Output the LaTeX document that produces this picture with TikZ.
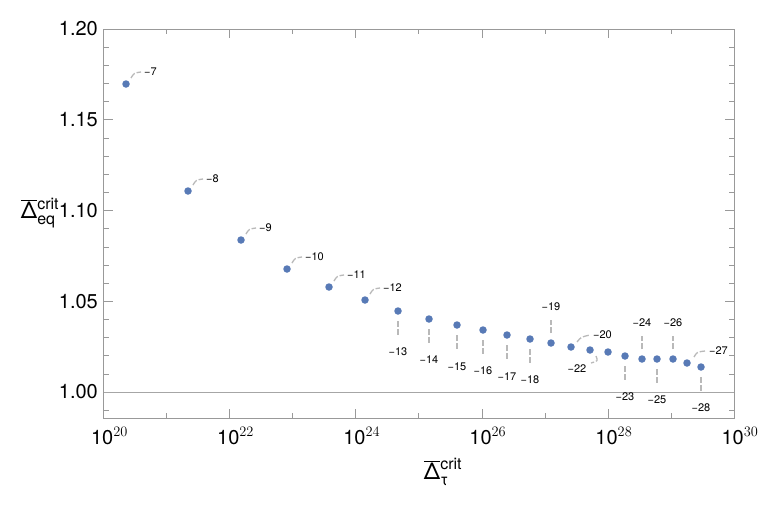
\documentclass[tikz,border=0pt]{standalone}
\usepackage{fontspec}
\setmainfont{TeX Gyre Heros}
\definecolor{ptc}{RGB}{88,122,182}
\newcommand{\smtxt}[1]{\hbox{\fontsize{16}{16}\selectfont #1}}
\newcommand{\dbar}{\overline{\hbox{Δ}}}
\begin{document}
\begin{tikzpicture}[x=1pt,y=-1pt,
  frame/.style={draw=gray!80,line width=0.6pt},
  tick/.style={draw=gray!80,line width=0.6pt},
  pt/.style={circle,fill=ptc,inner sep=0pt,minimum size=7.5pt},
  lead/.style={draw=gray!55,line width=1.3pt,dash pattern=on 6pt off 2pt},
  lab/.style={font=\fontsize{11}{11}\selectfont,inner sep=0pt},
  tl/.style={font=\fontsize{20}{20}\selectfont,inner sep=0pt}]
\useasboundingbox (0,0) rectangle (758,506);
\fill[white] (0,0) rectangle (758,506);
% frame
\draw[frame] (103.5,29) rectangle (734,418);
% x ticks
\foreach \i in {0,...,10}{
  \pgfmathsetmacro\xx{103.5+63.05*\i}
  \pgfmathtruncatemacro\ev{mod(\i,2)}
  \ifnum\ev=0
    \draw[tick] (\xx,418) -- ++(0,-9); \draw[tick] (\xx,29) -- ++(0,9);
  \else
    \draw[tick] (\xx,418) -- ++(0,-5); \draw[tick] (\xx,29) -- ++(0,5);
  \fi}
\foreach \i/\e in {0/20,2/22,4/24,6/26,8/28,10/30}{
  \node[tl,anchor=north] (xl\e) at (103.5+63.05*\i+6,427) {10$^{\e}$};}
% y ticks
\foreach \j in {-1,...,20}{
  \pgfmathsetmacro\yy{392-18.15*\j}
  \pgfmathtruncatemacro\ev{mod(\j+5,5)}
  \ifnum\ev=0
    \draw[tick] (103.5,\yy) -- ++(9,0); \draw[tick] (734,\yy) -- ++(-9,0);
  \else
    \draw[tick] (103.5,\yy) -- ++(5,0); \draw[tick] (734,\yy) -- ++(-5,0);
  \fi}
\foreach \j/\t in {0/1.00,5/1.05,10/1.10,15/1.15,20/1.20}{
  \node[tl,anchor=east] (yl\j) at (98,392-18.15*\j) {\t};}
% reference line
\draw[gray!70,line width=0.6pt] (103.5,392) -- (734,392);
% axis labels
\node[font=\fontsize{23}{23}\selectfont] (ylab) at (40,213) {$\dbar{}^{\smtxt{crit}}_{\smtxt{eq}}$};
\node[font=\fontsize{23}{23}\selectfont] (xlab) at (443,472) {$\dbar{}^{\smtxt{crit}}_{\smtxt{τ}}$};
% points
\foreach \n/\x/\y in {7/126/84,8/188/191,9/241/240,10/287/269,11/329/287,12/365/300,
 13/398/311,14/429/319,15/457/325,16/483/330,17/507/335,18/530/339,19/551/343,
 20/571/347,22/590/350,21/608/352,23/625/356,24/642/359,25/657/359,26/673/359,27/687/363,28/701/367}{
  \node[pt] (p\n) at (\x,\y) {};}
% upper-right curved leaders
\foreach \n/\x/\y in {7/126/84,8/188/191,9/241/240,10/287/269,11/329/287,12/365/300}{
  \draw[lead] (\x+5,\y-6) .. controls (\x+8,\y-11) .. (\x+15,\y-12);
  \node[lab,anchor=west] (l\n) at (\x+18,\y-12) {−\n};}
% below vertical leaders
\foreach \n/\x/\y/\ly in {13/398/311/352,14/429/319/360,15/457/325/367,16/483/330/371,17/507/335/377,18/530/339/380,23/625/356/397,25/657/359/400,28/701/367/408}{
  \draw[lead] (\x,\y+10) -- (\x,\ly-17);
  \node[lab] (l\n) at (\x,\ly) {−\n};}
% above vertical leaders
\foreach \n/\x/\y in {19/551/343,24/642/359,26/673/359}{
  \draw[lead] (\x,\y-10) -- (\x,\y-23);
  \node[lab] (l\n) at (\x,\y-36) {−\n};}
% -20, -27 curved up right
\draw[lead] (577,342) .. controls (581,337) .. (590,335);
\node[lab,anchor=west] (l20) at (593,335) {−20};
\draw[lead] (694,357) .. controls (697,352) .. (705,351);
\node[lab,anchor=west] (l27) at (709,351) {−27};
% -22 curved below
\draw[lead] (596,356) .. controls (598,361) .. (591,363);
\node[lab] (l22) at (577,369) {−22};
\end{tikzpicture}
\end{document}
